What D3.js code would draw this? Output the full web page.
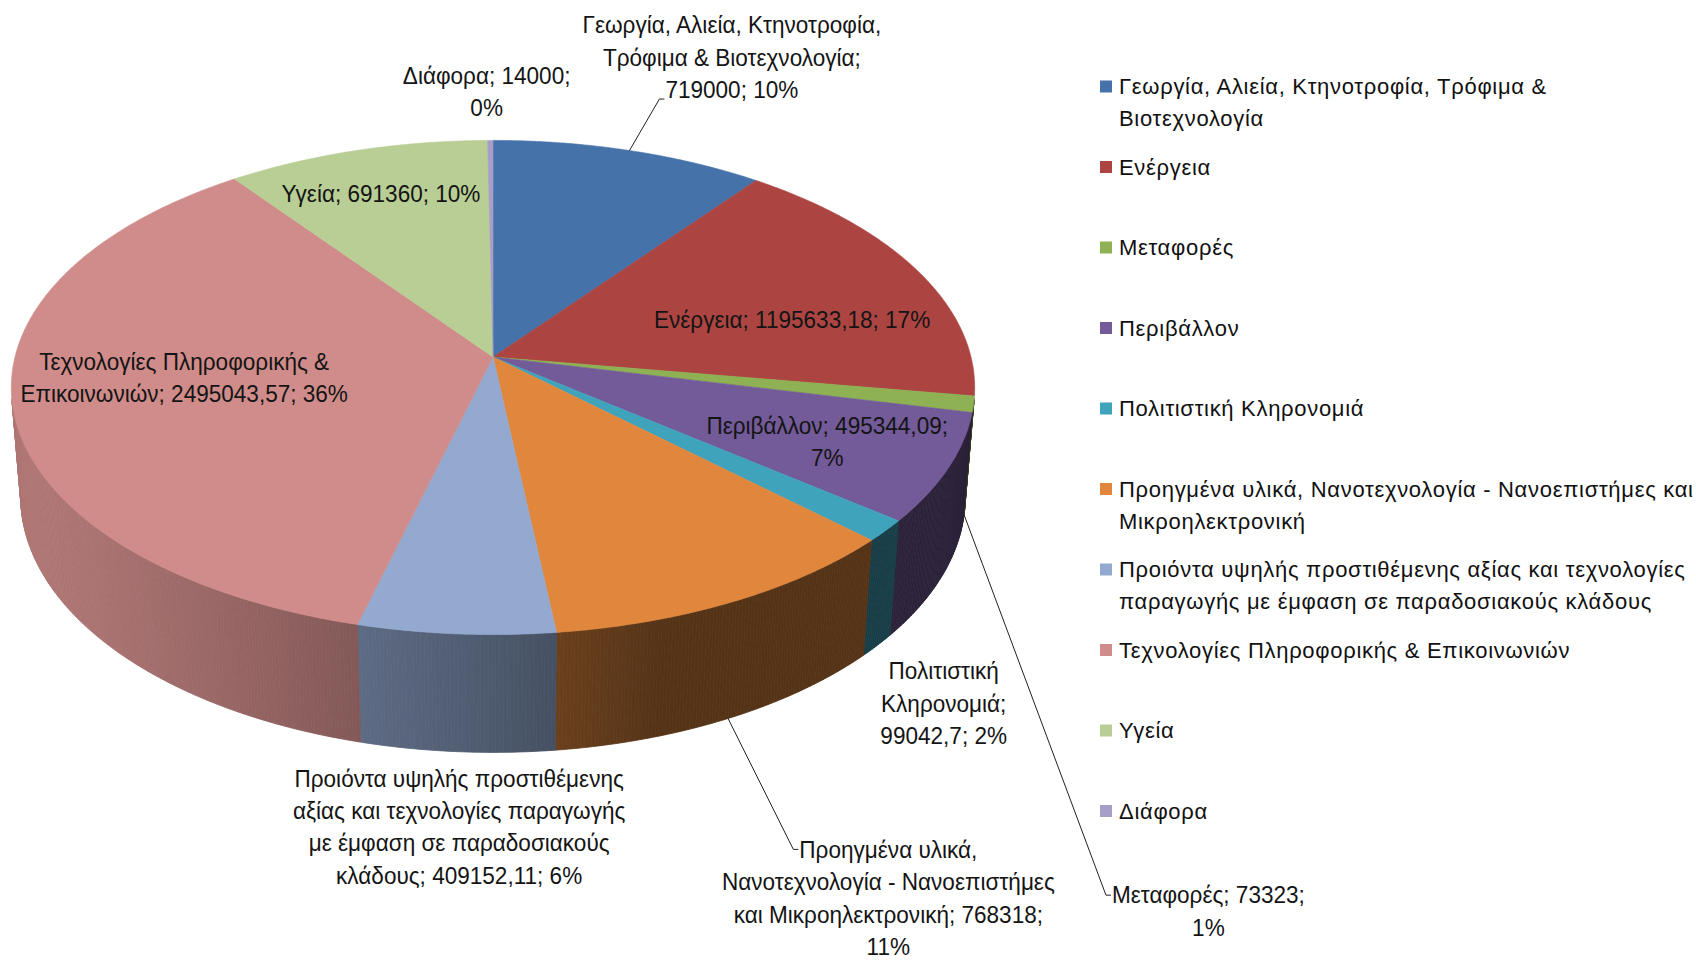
<!DOCTYPE html>
<html>
<head>
<meta charset="utf-8">
<script src="https://cdnjs.cloudflare.com/ajax/libs/d3/7.8.5/d3.min.js"></script>
<style>
  body { margin: 0; background: #fff; }
  svg { display: block; }
</style>
</head>
<body>
<svg id="chart" width="1696" height="962"></svg>
<script>
// ---- data ----
const categories = [
  "Γεωργία, Αλιεία, Κτηνοτροφία, Τρόφιμα & Βιοτεχνολογία",
  "Ενέργεια",
  "Μεταφορές",
  "Περιβάλλον",
  "Πολιτιστική Κληρονομιά",
  "Προηγμένα υλικά, Νανοτεχνολογία - Νανοεπιστήμες και Μικροηλεκτρονική",
  "Προιόντα υψηλής προστιθέμενης αξίας και τεχνολογίες παραγωγής με έμφαση σε παραδοσιακούς κλάδους",
  "Τεχνολογίες Πληροφορικής & Επικοινωνιών",
  "Υγεία",
  "Διάφορα"
];
const values = [719000, 1195633.18, 73323, 495344.09, 99042.7, 768318, 409152.11, 2495043.57, 691360, 14000];
const percentLabels = ["10%", "17%", "1%", "7%", "2%", "11%", "6%", "36%", "10%", "0%"];

// legend text as it wraps in the reference
const legendLines = [
  ["Γεωργία, Αλιεία, Κτηνοτροφία, Τρόφιμα &", "Βιοτεχνολογία"],
  ["Ενέργεια"],
  ["Μεταφορές"],
  ["Περιβάλλον"],
  ["Πολιτιστική Κληρονομιά"],
  ["Προηγμένα υλικά, Νανοτεχνολογία - Νανοεπιστήμες και", "Μικροηλεκτρονική"],
  ["Προιόντα υψηλής προστιθέμενης αξίας και τεχνολογίες", "παραγωγής με έμφαση σε παραδοσιακούς κλάδους"],
  ["Τεχνολογίες Πληροφορικής & Επικοινωνιών"],
  ["Υγεία"],
  ["Διάφορα"]
];

// data labels as they wrap in the reference
const labelLines = [
  ["Γεωργία, Αλιεία, Κτηνοτροφία,", "Τρόφιμα & Βιοτεχνολογία;", "719000; 10%"],
  ["Ενέργεια; 1195633,18; 17%"],
  ["Μεταφορές; 73323;", "1%"],
  ["Περιβάλλον; 495344,09;", "7%"],
  ["Πολιτιστική", "Κληρονομιά;", "99042,7; 2%"],
  ["Προηγμένα υλικά,", "Νανοτεχνολογία - Νανοεπιστήμες", "και Μικροηλεκτρονική; 768318;", "11%"],
  ["Προιόντα υψηλής προστιθέμενης", "αξίας και τεχνολογίες παραγωγής", "με έμφαση σε παραδοσιακούς", "κλάδους; 409152,11; 6%"],
  ["Τεχνολογίες Πληροφορικής &", "Επικοινωνιών; 2495043,57; 36%"],
  ["Υγεία; 691360; 10%"],
  ["Διάφορα; 14000;", "0%"]
];

const topColours = ["#4672aa", "#ac4542", "#8db153", "#735a98", "#3fa3bb",
                    "#e0873d", "#93a9d0", "#cf8c8a", "#b8ce94", "#a89fc8"];

// ---- layout ----
const cx = 493, cy = 357;        // where the slices meet
const k = 478;                    // radius scale, px
const tilt = 30.6 * Math.PI / 180;
const persp = 0.1433;             // 1 / camera distance (radii)
const thick = 0.27;               // pie height (radii)
const ca = Math.cos(tilt), sa = Math.sin(tilt);

// label centre in pie-plane polar coords: [angle deg, radius], leader mode
const labelPolar = [[22.1, 1.566], [76.4, 0.656], [146.7, 2.128], [116.5, 0.749], [146.5, 1.453],
                    [159.6, 1.862], [182.1, 1.561], [262.4, 0.645], [340.8, 0.777], [359.3, 1.2585]];
const leaderMode = ["bottom", null, "first", null, null, "first", null, null, null, null];

const labelFont = 24, labelLH = 32.5, labelSX = 0.94;
const legendX = 1100, legendY0 = 86.5, legendStep = 80.5, legendLH = 32;

function project(theta, r, y) {
  const X = r * Math.sin(theta), Z = r * Math.cos(theta);
  const depth = 1 + persp * (Z * ca - y * sa);
  const up = y * ca + Z * sa;
  return [cx + k * X / depth, cy - k * up / depth];
}

const svg = d3.select("#chart");
const pie = d3.pie().sort(null).value(d => d)(values);

// ---- side walls (front facing part only), shaded by angle ----
const visLimit = Math.acos(-persp / ca);
const visFrom = visLimit, visTo = 2 * Math.PI - visLimit;
const light = [-0.95, -0.31];
const ln = Math.hypot(light[0], light[1]);
function shade(theta) {
  const d = (Math.sin(theta) * light[0] + Math.cos(theta) * light[1]) / ln;
  return 0.38 + 0.47 * Math.max(0, d);
}

const walls = svg.append("g").attr("class", "walls");
const step = 0.4 * Math.PI / 180;
pie.forEach((s, i) => {
  const a0 = Math.max(s.startAngle, visFrom), a1 = Math.min(s.endAngle, visTo);
  if (a1 <= a0) return;
  const base = d3.rgb(topColours[i]);
  const n = Math.max(1, Math.ceil((a1 - a0) / step));
  for (let j = 0; j < n; j++) {
    const t0 = a0 + (a1 - a0) * j / n, t1 = a0 + (a1 - a0) * (j + 1) / n;
    const f = shade((t0 + t1) / 2);
    const c = d3.rgb(base.r * f, base.g * f, base.b * f).formatHex();
    const pts = [project(t0, 1, 0), project(t1, 1, 0), project(t1, 1, -thick), project(t0, 1, -thick)];
    walls.append("path")
      .attr("d", "M" + pts.map(p => p.join(",")).join("L") + "Z")
      .attr("fill", c).attr("stroke", c).attr("stroke-width", 0.8);
  }
});

// ---- top faces ----
const tops = svg.append("g").attr("class", "tops");
tops.selectAll("path")
  .data(pie)
  .enter()
  .append("path")
  .attr("d", function(s) {
    const n = Math.max(2, Math.ceil((s.endAngle - s.startAngle) / step));
    const pts = [project(0, 0, 0)];
    for (let j = 0; j <= n; j++) {
      pts.push(project(s.startAngle + (s.endAngle - s.startAngle) * j / n, 1, 0));
    }
    return "M" + pts.map(p => p.join(",")).join("L") + "Z";
  })
  .attr("fill", (d, i) => topColours[i])
  .attr("stroke", (d, i) => topColours[i])
  .attr("stroke-width", 0.6);

// ---- data labels ----
const labels = svg.append("g").attr("class", "labels")
  .style("font-family", "'Liberation Sans', Arial, sans-serif")
  .style("font-size", labelFont + "px")
  .attr("fill", "#141414");

const leaders = svg.append("g").attr("class", "leaders")
  .attr("fill", "none").attr("stroke", "#222").attr("stroke-width", 1);

pie.forEach((s, i) => {
  const pos = project(labelPolar[i][0] * Math.PI / 180, labelPolar[i][1], 0);
  const lines = labelLines[i];
  const g = labels.append("g")
    .attr("transform", "translate(" + pos[0] + "," + pos[1] + ") scale(" + labelSX + ",1)");
  const texts = [];
  lines.forEach((t, j) => {
    texts.push(g.append("text")
      .attr("text-anchor", "middle")
      .attr("dominant-baseline", "central")
      .attr("y", (j - (lines.length - 1) / 2) * labelLH)
      .text(t));
  });
  const mode = leaderMode[i];
  if (!mode) return;
  const mid = (s.startAngle + s.endAngle) / 2;
  let from, ax, ay;
  if (mode === "bottom") {
    from = project(mid, 1, 0);
    const last = texts[texts.length - 1];
    const w = last.node().getComputedTextLength() * labelSX;
    ax = pos[0] - w / 2;
    ay = pos[1] + ((lines.length - 1) / 2) * labelLH + 9;
  } else {
    from = project(mid, 1, -thick);
    const first = texts[0];
    const w = first.node().getComputedTextLength() * labelSX;
    ax = pos[0] - w / 2;
    ay = pos[1] - ((lines.length - 1) / 2) * labelLH;
  }
  leaders.append("path")
    .attr("d", "M" + from.join(",") + "L" + (ax - 6) + "," + ay + "L" + (ax - 1) + "," + ay);
});

// ---- legend ----
const legend = svg.append("g").attr("class", "legend")
  .style("font-family", "'Liberation Sans', Arial, sans-serif")
  .style("font-size", "22px")
  .style("letter-spacing", "0.7px")
  .attr("fill", "#111");

const items = legend.selectAll("g")
  .data(categories)
  .enter()
  .append("g")
  .attr("transform", (d, i) => "translate(" + legendX + "," + (legendY0 + i * legendStep) + ")");

items.append("rect")
  .attr("x", 0).attr("y", -6).attr("width", 12).attr("height", 12)
  .attr("fill", (d, i) => topColours[i]);

items.each(function(d, i) {
  const g = d3.select(this);
  legendLines[i].forEach((t, j) => {
    g.append("text")
      .attr("x", 19)
      .attr("y", j * legendLH)
      .attr("dominant-baseline", "central")
      .text(t);
  });
});
</script>
</body>
</html>
